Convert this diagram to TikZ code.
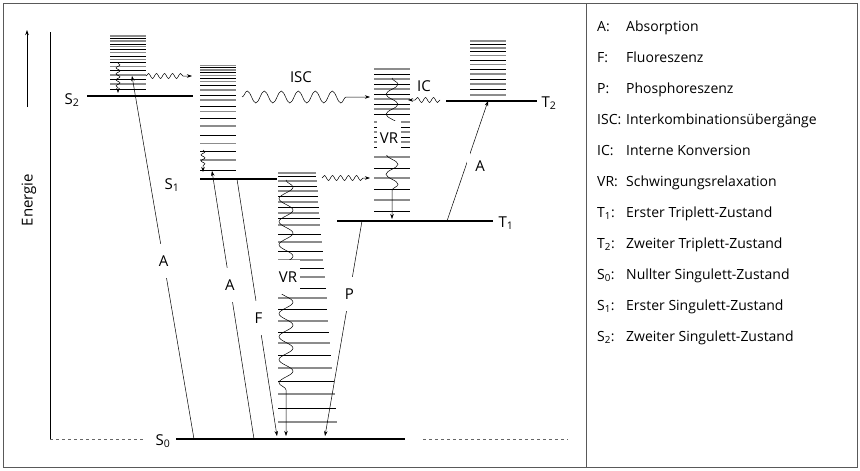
\documentclass[tikz,border=0pt]{standalone}
\usepackage{fontspec}
\setmainfont{Open Sans}
\usetikzlibrary{arrows.meta,decorations.pathmorphing}

\tikzset{
  level/.style={line width=1.4pt},
  vibgray/.style={line width=1.1pt, black!45},
  vibblack/.style={line width=0.9pt, black},
  trans/.style={->, line width=0.5pt},
  lbl/.style={fill=white, inner xsep=3pt, minimum height=34pt, font=\fontsize{15}{17}\selectfont},
  state/.style={font=\fontsize{15}{17}\selectfont},
  key/.style={anchor=base west, inner sep=0pt, font=\fontsize{14}{16}\selectfont},
  smallwave/.style={->, line width=0.5pt, decorate,
    decoration={snake, amplitude=2.5pt, segment length=8pt, post length=7pt}},
  tinywave/.style={->, line width=0.5pt, decorate,
    decoration={snake, amplitude=2pt, segment length=6pt, post length=5pt}},
  bigwave/.style={->, line width=0.5pt, decorate,
    decoration={snake, amplitude=6pt, segment length=17pt, post length=18pt}},
}

\begin{document}
\begin{tikzpicture}[x=1pt, y=-1pt, >={Stealth[length=5pt,width=3.5pt]}]
  \useasboundingbox (0,0) rectangle (860,471);
  % frame and legend divider
  \draw[black!65, line width=0.9pt] (3.5,3.5) rectangle (857,467);
  \draw[black!65, line width=0.9pt] (586,3.5) -- (586,467);

  % energy axis
  \coordinate (eLow) at (27,107);
  \coordinate (eHigh) at (27,30);
  \draw[->, line width=0.7pt] (eLow) -- (eHigh);
  \node[state, rotate=90] (energy) at (29,200) {Energie};
  \draw[line width=1pt] (50,32) -- (50,439);
  \draw[black!60, dashed, line width=0.8pt] (50,439) -- (143,439);
  \draw[black!60, dashed, line width=0.8pt] (423,439) -- (568,439);

  % vibrational levels
  \foreach \y [count=\n] in {36,38.7,41,44,46.7,49.3,52.3,56,59.3,62.7,66.7,70.7,75,79.3,84,89.3}{
    \ifodd\n\def\c{vibgray}\else\def\c{vibblack}\fi
    \draw[\c] (110,\y) -- (146,\y);
  }
  \foreach \y [count=\n] in {65.7,67.7,70,72.7,75.3,78.3,81.7,85.7,90,95,100,106,111.7,118.3,126,135,143.3,151.7,160,170.7}{
    \ifodd\n\def\c{vibgray}\else\def\c{vibblack}\fi
    \draw[\c] (200,\y) -- (236,\y);
  }
  \foreach \y [count=\n] in {173,176,181,186,191,196,202,207,213,218,225,234,242,251,260,268,277,288,298,309,321,332,343,355,368,381,394,408,422}{
    \ifodd\n\def\c{vibgray}\else\def\c{vibblack}\fi
    \draw[\c] (278,\y) -- ({316+(\y-173)*0.0843},\y);
  }
  \foreach \y [count=\n] in {69,74,79,84,89,94,99,104,109,114,122,127,132,137,142,147,157,168,178,189,200,211}{
    \ifodd\n\def\c{vibgray}\else\def\c{vibblack}\fi
    \draw[\c] (374,\y) -- (410,\y);
  }
  \foreach \y [count=\n] in {41,44,48,51.5,55.5,60,64.5,69,74,79,84,89.5,95}{
    \ifodd\n\def\c{vibgray}\else\def\c{vibblack}\fi
    \draw[\c] (470,\y) -- (506,\y);
  }

  % electronic levels
  \draw[level] (176,439) -- (405,439);
  \draw[level] (200,179) -- (277,179);
  \draw[level] (87,96) -- (193,96);
  \draw[level] (337,221) -- (493,221);
  \draw[level] (446,101) -- (537,101);
  \node[state] (s0) at (163,441) {S\textsubscript{0}};
  \node[state] (s1) at (172,185) {S\textsubscript{1}};
  \node[state] (s2) at (72,100) {S\textsubscript{2}};
  \node[state] (t1) at (506,223) {T\textsubscript{1}};
  \node[state] (t2) at (549,103) {T\textsubscript{2}};

  % radiative transitions
  \coordinate (absA) at (194,439);
  \coordinate (absB) at (132,76);
  \coordinate (absC) at (254,439);
  \coordinate (absD) at (212,171);
  \coordinate (fluA) at (237,179);
  \coordinate (fluB) at (277,436);
  \coordinate (phoA) at (362,221);
  \coordinate (phoB) at (325,436);
  \coordinate (absE) at (447,221);
  \coordinate (absF) at (488,101);
  \draw[trans] (absA) -- node[lbl, pos=0.49] (labA) {A} (absB);
  \draw[trans] (absC) -- node[lbl, pos=0.575] (labAA) {A} (absD);
  \draw[trans] (fluA) -- node[lbl, pos=0.54] (labF) {F} (fluB);
  \draw[trans] (phoA) -- node[lbl, pos=0.34] (labP) {P} (phoB);
  \draw[trans] (absE) -- node[fill=white, pos=0.525, inner sep=0pt, minimum width=3pt, minimum height=30pt] (gapA) {} (absF);
  \node[state] (labAT) at (480,166) {A};

  % non-radiative transitions
  \coordinate (iscA) at (146,76);
  \coordinate (iscB) at (192,76);
  \coordinate (iscC) at (242,97);
  \coordinate (iscD) at (370,97);
  \coordinate (iscE) at (322,178);
  \coordinate (iscF) at (370,178);
  \coordinate (icA) at (440,100);
  \coordinate (icB) at (408,100);
  \draw[smallwave] (iscA) -- (iscB);
  \draw[bigwave] (iscC) -- (iscD);
  \draw[smallwave] (iscE) -- (iscF);
  \draw[smallwave] (icA) -- (icB);
  \node[state] (labISC) at (301,77) {ISC};
  \node[state] (labIC) at (424,86) {IC};

  % vibrational relaxation
  \coordinate (vrA) at (118,63);
  \coordinate (vrB) at (118,93);
  \coordinate (vrC) at (203,150);
  \coordinate (vrD) at (203,172);
  \coordinate (vrE) at (286,180);
  \coordinate (vrF) at (286,436);
  \coordinate (vrG) at (392,78);
  \coordinate (vrH) at (392,219);
  \draw[tinywave] (vrA) -- (vrB);
  \draw[tinywave] (vrC) -- (vrD);
  \draw[->, line width=0.5pt, decorate,
    decoration={snake, amplitude=7pt, segment length=23pt, post length=36pt}] (vrE) -- (vrF);
  \draw[->, line width=0.5pt, decorate,
    decoration={snake, amplitude=6pt, segment length=20pt, post length=19pt}] (vrG) -- (vrH);
  \node[lbl] (labVR) at (288,277) {VR};
  \node[lbl] (labVRT) at (389,138) {VR};

  % legend
  \foreach \k/\t [count=\i from 0] in {A:/Absorption, F:/Fluoreszenz, P:/Phosphoreszenz,
      ISC:/Interkombinationsübergänge, IC:/Interne Konversion, VR:/Schwingungsrelaxation,
      T\textsubscript{1}:/Erster Triplett-Zustand, T\textsubscript{2}:/Zweiter Triplett-Zustand,
      S\textsubscript{0}:/Nullter Singulett-Zustand, S\textsubscript{1}:/Erster Singulett-Zustand,
      S\textsubscript{2}:/Zweiter Singulett-Zustand}{
    \node[key] (key\i) at (597,{31+31*\i}) {\k};
    \node[key] (txt\i) at (626,{31+31*\i}) {\t};
  }
\end{tikzpicture}
\end{document}
